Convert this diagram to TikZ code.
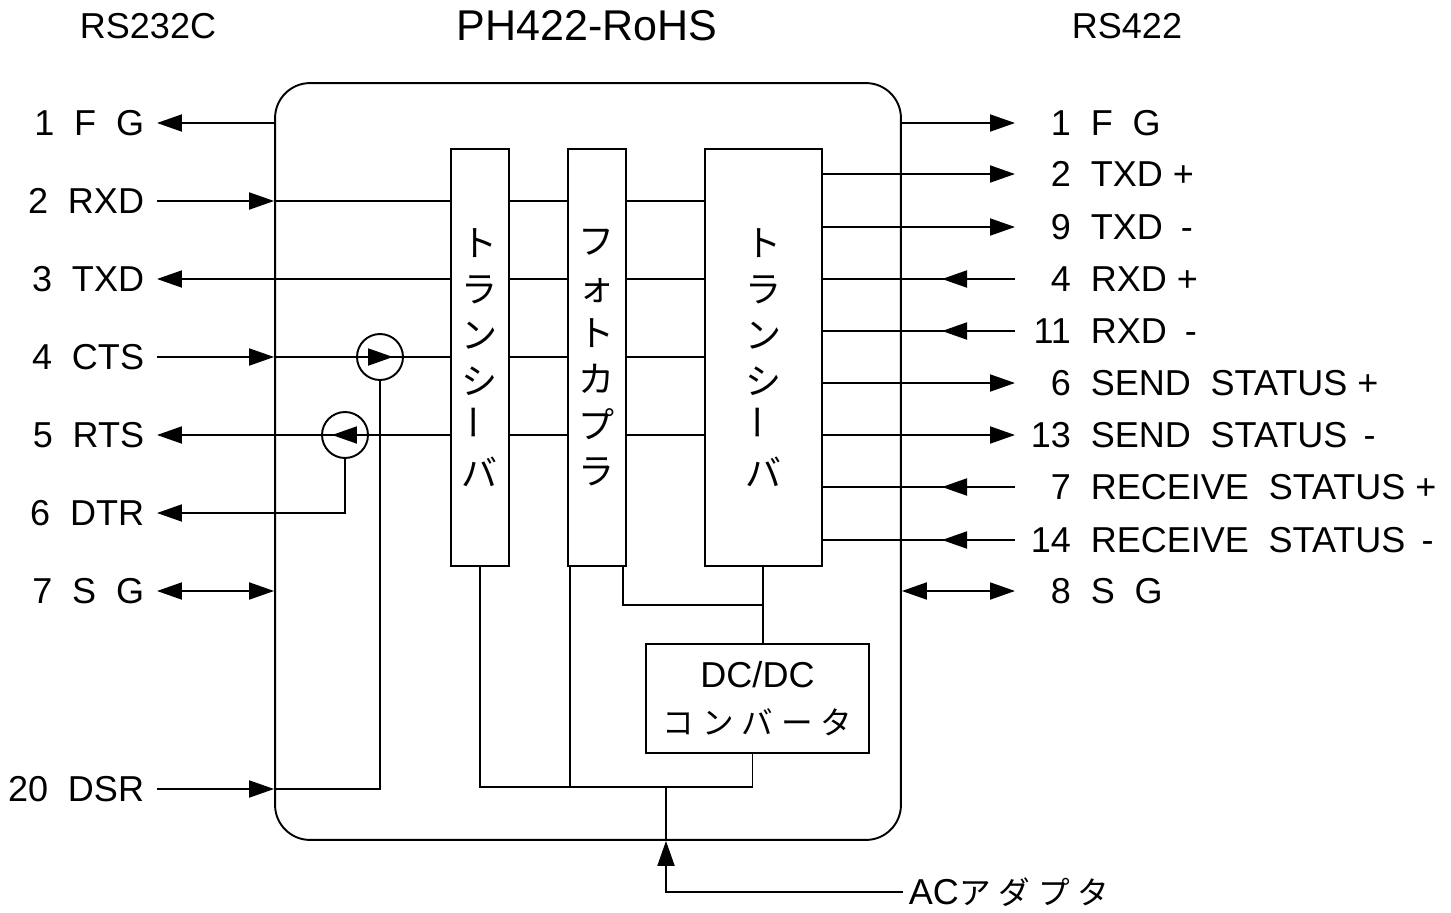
\documentclass[tikz,border=0pt]{standalone}
\usepackage{fontspec}
\setmainfont{Liberation Sans}
\newfontfamily\jp{Noto Sans CJK JP}
\usetikzlibrary{arrows.meta,calc,positioning}
\newcommand{\sig}{\fontsize{20.5}{24}\selectfont}
\newcommand{\ttl}{\fontsize{24.5}{28}\selectfont}
\newcommand{\gp}{\hspace{0.55em}}
\newcommand{\kg}{\hspace{0.25em}}
\newcommand{\pinno}[1]{\makebox[1.112em][r]{#1}\gp}
\newcommand{\vbar}{\rotatebox{90}{ー}}
\tikzset{
  >={Triangle[length=5mm,width=3.4mm]},
  unitbox/.style={draw,rounded corners=7mm,minimum width=12.52cm,minimum height=15.14cm},
  blk/.style={draw,minimum width=1.16cm,minimum height=8.34cm,inner sep=0pt,
    align=center,font=\jp\fontsize{20.5}{26.2}\selectfont},
  dcbox/.style={draw,minimum width=4.46cm,minimum height=2.18cm,inner sep=0pt,
    align=center,font=\fontsize{20.5}{27}\selectfont},
  pinl/.style={anchor=east,inner xsep=0.24cm,inner ysep=0pt},
  pinr/.style={anchor=west,inner xsep=0.3cm,inner ysep=0pt},
  sw/.style={draw,circle,minimum size=0.92cm,inner sep=0pt}
}
\begin{document}
\begin{tikzpicture}[x=0.02cm,y=-0.02cm,line width=1.1pt,font=\sig]
\useasboundingbox (0,0) rectangle (1451,913);

\node (rs232) at (148,26) {RS232C};
\node[font=\ttl] (model) at (587,26) {PH422-RoHS};
\node (rs422) at (1127,26) {RS422};

\node[unitbox] (unit) at (588,461.5) {};

% blocks
\node[blk] (tr1) at (480,357.5) {ト\\ラ\\ン\\シ\\\vbar\\バ};
\node[blk,right=1.14cm of tr1] (pc) {フ\\ォ\\ト\\カ\\プ\\ラ};
\node[blk,minimum width=2.34cm,right=1.54cm of pc] (tr2) {ト\\ラ\\ン\\シ\\\vbar\\バ};
\node[dcbox] (dc) at (757.5,698.5) {DC/DC\\{\jp\fontsize{18}{27}\selectfont コ\kg ン\kg バ\kg ー\kg タ}};

\node[sw] (cts) at (380,357) {};
\node[sw] (rts) at (345,435) {};

% RS232C side
\node[pinl] (l1) at (157,123) {1\gp F\gp G};
\node[pinl] (l2) at (157,201) {2\gp RXD};
\node[pinl] (l3) at (157,279) {3\gp TXD};
\node[pinl] (l4) at (157,357) {4\gp CTS};
\node[pinl] (l5) at (157,435) {5\gp RTS};
\node[pinl] (l6) at (157,513) {6\gp DTR};
\node[pinl] (l7) at (157,591) {7\gp S\gp G};
\node[pinl] (l20) at (157,789) {20\gp DSR};

% RS422 side
\node[pinr] (r1) at (1015,123) {\pinno{1}F\gp G};
\node[pinr] (r2) at (1015,174) {\pinno{2}TXD +};
\node[pinr] (r9) at (1015,227) {\pinno{9}TXD\hspace{0.5em}-};
\node[pinr] (r4) at (1015,279) {\pinno{4}RXD +};
\node[pinr] (r11) at (1015,331) {\pinno{11}RXD\hspace{0.5em}-};
\node[pinr] (r6) at (1015,383) {\pinno{6}SEND\gp STATUS +};
\node[pinr] (r13) at (1015,435) {\pinno{13}SEND\gp STATUS\hspace{0.45em}-};
\node[pinr] (r7) at (1015,487) {\pinno{7}RECEIVE\gp STATUS +};
\node[pinr] (r14) at (1015,540) {\pinno{14}RECEIVE\gp STATUS\hspace{0.45em}-};
\node[pinr] (r8) at (1015,591) {\pinno{8}S\gp G};

\draw[<-] (l1.east) -- (unit.west |- l1);
\draw[->] (l2.east) -- (unit.west |- l2);
\draw (unit.west |- l2) -- (tr1.west |- l2);
\draw[<-] (l3.east) -- (tr1.west |- l3);
\draw[->] (l4.east) -- (unit.west |- l4);
\draw (unit.west |- l4) -- (tr1.west |- l4);
\draw[<-] (l5.east) -- (tr1.west |- l5);
\draw[<->] (l7.east) -- (unit.west |- l7);
\draw[->] (l20.east) -- (unit.west |- l20);
\draw (unit.west |- l20) -| (cts.south);
\draw[->] (rts.south) |- (l6.east);
\draw[->] ($(cts)+(-12,0)$) -- ($(cts)+(13,0)$);
\draw[->] ($(rts)+(11,0)$) -- ($(rts)+(-13,0)$);

\foreach \s in {l2,l3,l4,l5}{
  \draw (tr1.east |- \s) -- (pc.west |- \s);
  \draw (pc.east |- \s) -- (tr2.west |- \s);
}

\draw[->] (unit.east |- r1) -- (r1.west);
\foreach \s in {r2,r9,r6,r13} \draw[->] (tr2.east |- \s) -- (\s.west);
\foreach \s in {r4,r11,r7,r14}{
  \draw (tr2.east |- \s) -- (\s.west);
  \draw[->] (\s.west) -- ++(-73,0);
}
\draw[<->] (unit.east |- r8) -- (r8.west);

% power
\coordinate (bus) at (666,787);
\coordinate (pcl) at ($(pc.south west)+(3,0)$);
\coordinate (pcr) at ($(pc.south east)+(-4,0)$);
\coordinate (tie) at ($(tr2.south)+(0,38)$);
\draw (tr2.south) -- (tr2.south |- dc.north);
\draw (pcr) |- (tie);
\draw ($(dc.south)+(-5,0)$) |- (tr1.south |- bus) -- (tr1.south);
\draw (pcl) -- (pcl |- bus);
\draw (bus) -- (bus |- unit.south);
\node[anchor=west,inner sep=0.1cm] (ac) at (903,892) {AC{\jp\fontsize{18}{24}\selectfont ア\kg ダ\kg プ\kg タ}};
\draw[->] (ac.west) -| (bus |- unit.south);

\end{tikzpicture}
\end{document}
